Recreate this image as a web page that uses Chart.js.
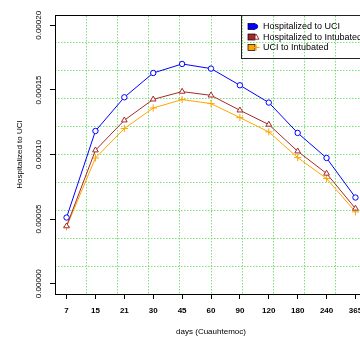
<!DOCTYPE html>
<html>
<head>
<meta charset="utf-8">
<script src="https://cdn.jsdelivr.net/npm/chart.js@4/dist/chart.umd.min.js"></script>
<style>
html,body{margin:0;padding:0;background:#fff;overflow:hidden;width:360px;height:339px;}
canvas{display:block;}
</style>
</head>
<body>
<canvas id="c" width="372" height="339"></canvas>
<script>
// ---- data ----
const categories = ['7','15','21','30','45','60','90','120','180','240','365'];
const hospToUCI = [0.0000512,0.0001182,0.0001443,0.0001631,0.0001701,0.0001665,0.0001536,0.0001402,0.0001167,0.0000973,0.0000667];
const hospToIntubated = [0.0000445,0.0001033,0.0001265,0.0001427,0.0001487,0.0001458,0.0001342,0.0001232,0.0001025,0.0000853,0.0000582];
const uciToIntubated = [0.0000440,0.0000973,0.0001201,0.0001360,0.0001425,0.0001394,0.0001286,0.0001175,0.0000976,0.0000814,0.0000556];
const yTicks = [0,0.00005,0.0001,0.00015,0.0002];
const seriesNames = ['Hospitalized to UCI','Hospitalized to Intubated','UCI to Intubated'];

const FONT = '"Liberation Sans", Arial, Helvetica, sans-serif';
Chart.defaults.color = '#000';
Chart.defaults.font.family = FONT;

const toXY = arr => arr.map((v,i)=>({x:i+1,y:v}));
const GRID = '#7fdc7f';

const legendPlugin = {
  id:'rlegend',
  afterDraw(chart){
    const ctx = chart.ctx;
    ctx.save();
    ctx.strokeStyle = '#222';
    ctx.lineWidth = 1;
    ctx.strokeRect(241.5, 15.5, 125, 43);
    const cols = ['#0000ff','#a52a2a','#ffa500'];
    const ys = [26.5,37,47.5];
    ctx.font = '9px ' + FONT;
    ctx.textBaseline = 'middle';
    ctx.textAlign = 'left';
    for(let i=0;i<3;i++){
      const y = ys[i];
      ctx.fillStyle = cols[i];
      ctx.fillRect(248, y-3, 7, 6);
      ctx.strokeStyle = '#000';
      ctx.lineWidth = 0.7;
      ctx.strokeRect(248, y-3, 7, 6);
      ctx.strokeStyle = cols[i];
      ctx.lineWidth = 1;
      ctx.beginPath();
      if(i===0){ ctx.arc(255.5,y,2.2,0,Math.PI*2); ctx.fillStyle=cols[0]; ctx.fill(); ctx.stroke(); }
      else if(i===1){ ctx.moveTo(256,y-3); ctx.lineTo(259,y+2.2); ctx.lineTo(253,y+2.2); ctx.closePath(); ctx.stroke(); }
      else { ctx.moveTo(253,y); ctx.lineTo(259.5,y); ctx.moveTo(256.2,y-3); ctx.lineTo(256.2,y+3); ctx.stroke(); }
      ctx.fillStyle = '#000';
      ctx.fillText(seriesNames[i], 263, y+0.5);
    }
    ctx.restore();
  }
};

new Chart(document.getElementById('c'), {
  type:'line',
  data:{
    datasets:[
      {label:seriesNames[0], data:toXY(hospToUCI), borderColor:'#0000ff', backgroundColor:'#fff', borderWidth:1,
       pointStyle:'circle', pointRadius:2.7, pointBorderWidth:1, pointBorderColor:'#0000ff', pointBackgroundColor:'#fff', tension:0},
      {label:seriesNames[1], data:toXY(hospToIntubated), borderColor:'#a52a2a', backgroundColor:'#fff', borderWidth:1,
       pointStyle:'triangle', pointRadius:3.3, pointBorderWidth:1, pointBorderColor:'#a52a2a', pointBackgroundColor:'#fff', tension:0},
      {label:seriesNames[2], data:toXY(uciToIntubated), borderColor:'#ffa500', backgroundColor:'#ffa500', borderWidth:1,
       pointStyle:'cross', pointRadius:3.6, pointBorderWidth:1, pointBorderColor:'#ffa500', tension:0}
    ]
  },
  options:{
    responsive:false, animation:false, devicePixelRatio:1,
    layout:{padding:{left:0,top:15,right:5,bottom:0}},
    plugins:{legend:{display:false}, tooltip:{enabled:false}},
    scales:{
      x:{type:'linear', position:'bottom', min:0.6, max:11.4,
        afterBuildTicks:s=>{s.ticks=categories.map((c,i)=>({value:i+1}));},
        afterFit:s=>{s.height=45;},
        ticks:{callback:(v)=>categories[Math.round(v)-1], font:{size:8, weight:'bold'}, padding:7, maxRotation:0, autoSkip:false},
        grid:{drawOnChartArea:false, drawTicks:true, tickLength:5, tickColor:'#000', tickWidth:1},
        border:{display:true, color:'#000', width:1},
        title:{display:true, text:'days (Cuauhtemoc)', font:{size:8}, padding:{top:0,bottom:2.7}}
      },
      y:{type:'linear', position:'left', min:-0.000008, max:0.000208,
        afterBuildTicks:s=>{s.ticks=yTicks.map(v=>({value:v}));},
        afterFit:s=>{s.width=55;},
        ticks:{callback:(v)=>v.toFixed(5), font:{size:8}, minRotation:90, maxRotation:90, crossAlign:'center', padding:-3},
        grid:{drawOnChartArea:false, drawTicks:true, tickLength:5, tickColor:'#000', tickWidth:1},
        border:{display:true, color:'#000', width:1},
        title:{display:true, text:'Hospitalized to UCI', font:{size:8}, padding:{top:15,bottom:0}}
      },
      gx:{type:'linear', position:'top', min:0, max:10,
        afterBuildTicks:s=>{s.ticks=[1,2,3,4,5,6,7,8,9].map(v=>({value:v}));},
        afterFit:s=>{s.height=0;},
        ticks:{display:false},
        grid:{color:GRID, lineWidth:1, drawTicks:false},
        border:{display:true, color:'#000', width:1, dash:[1.5,1.5]}
      },
      gy:{type:'linear', position:'right', min:0, max:10,
        afterBuildTicks:s=>{s.ticks=[1,2,3,4,5,6,7,8,9].map(v=>({value:v}));},
        afterFit:s=>{s.width=0;},
        ticks:{display:false},
        grid:{color:GRID, lineWidth:1, drawTicks:false},
        border:{display:true, color:'#000', width:1, dash:[1.5,1.5]}
      }
    }
  },
  plugins:[legendPlugin]
});
</script>
</body>
</html>
